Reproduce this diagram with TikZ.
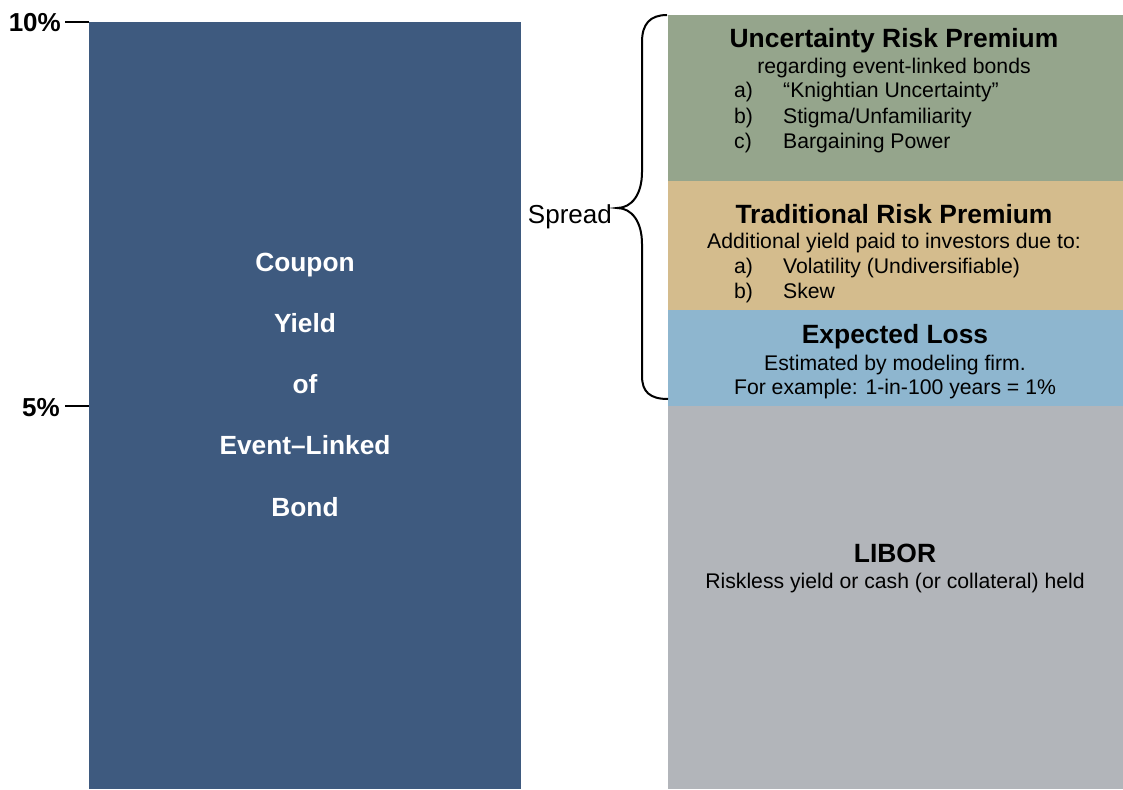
\documentclass[tikz,border=0pt]{standalone}
\usepackage{fontspec}
\setmainfont{Liberation Sans}
\definecolor{barblue}{HTML}{3E5A7F}
\definecolor{ugreen}{HTML}{95A58C}
\definecolor{ttan}{HTML}{D4BC8D}
\definecolor{elblue}{HTML}{8EB6CF}
\definecolor{lgray}{HTML}{B2B5BA}
\tikzset{
  block/.style={inner sep=0pt, outer sep=0pt, anchor=north west, draw=none},
  bigtitle/.style={font=\fontsize{26.4}{30}\selectfont\bfseries, anchor=base, inner sep=0pt},
  bodytxt/.style={font=\fontsize{21.2}{25}\selectfont, anchor=base, inner sep=0pt},
  itemlbl/.style={font=\fontsize{21.2}{25}\selectfont, anchor=base west, inner sep=0pt},
  leftlbl/.style={font=\fontsize{26.3}{30}\selectfont\bfseries, text=white, anchor=base, inner sep=0pt},
  ticklbl/.style={font=\fontsize{26}{30}\selectfont\bfseries, anchor=base east, inner sep=0pt},
  tickline/.style={line width=1.8pt},
  bracestyle/.style={line width=2pt}
}
\begin{document}
\begin{tikzpicture}[x=1pt,y=-1pt]
\useasboundingbox (0,0) rectangle (1123,789);
% left bar
\node[block, fill=barblue, minimum width=432pt, minimum height=767pt] (bar) at (89,22) {};
\node[leftlbl] (l1) at (305,271) {Coupon};
\node[leftlbl] (l2) at (305,332) {Yield};
\node[leftlbl] (l3) at (305,393) {of};
\node[leftlbl] (l4) at (305,454) {Event–Linked};
\node[leftlbl] (l5) at (305,516) {Bond};
% ticks
\coordinate (t10) at (89,22);
\coordinate (t10s) at (65,22);
\coordinate (t5) at (89,406);
\coordinate (t5s) at (65,406);
\draw[tickline] (t10s) -- (t10);
\draw[tickline] (t5s) -- (t5);
\node[ticklbl] (p10) at (61,32) {10\%};
\node[ticklbl] (p5) at (60,416) {5\%};
% right stack
\node[block, fill=ugreen, minimum width=455pt, minimum height=167pt] (ur) at (668,15) {};
\node[block, fill=ttan, minimum width=455pt, minimum height=129pt] (tr) at (668,181) {};
\node[block, fill=elblue, minimum width=455pt, minimum height=96pt] (el) at (668,310) {};
\node[block, fill=lgray, minimum width=455pt, minimum height=383pt] (lb) at (668,406) {};
% uncertainty
\node[bigtitle] (urt) at (894,48) {Uncertainty Risk Premium};
\node[bodytxt] (urs) at (894,74) {regarding event-linked bonds};
\node[itemlbl] (ua) at (734,98) {a)};
\node[itemlbl] (uat) at (783,98) {“Knightian Uncertainty”};
\node[itemlbl] (ub) at (734,123) {b)};
\node[itemlbl] (ubt) at (783,123) {Stigma/Unfamiliarity};
\node[itemlbl] (uc) at (734,148) {c)};
\node[itemlbl] (uct) at (783,148) {Bargaining Power};
% traditional
\node[bigtitle] (trt) at (894,223) {Traditional Risk Premium};
\node[bodytxt] (trs) at (894,248) {Additional yield paid to investors due to:};
\node[itemlbl] (ta) at (734,273) {a)};
\node[itemlbl] (tat) at (783,273) {Volatility (Undiversifiable)};
\node[itemlbl] (tb) at (734,298) {b)};
\node[itemlbl] (tbt) at (783,298) {Skew};
% expected loss
\node[bigtitle] (elt) at (895,343) {Expected Loss};
\node[bodytxt] (els1) at (895,370) {Estimated by modeling firm.};
\node[bodytxt] (els2) at (895,394) {For example: 1-in-100 years = 1\%};
% libor
\node[bigtitle] (lbt) at (895,562) {LIBOR};
\node[bodytxt] (lbs) at (895,588) {Riskless yield or cash (or collateral) held};
% brace
\coordinate (bt) at (667,15);
\coordinate (bb) at (668,399);
\coordinate (tip) at (617,208);
\draw[bracestyle] (bt) .. controls (650,15) and (642,24) .. (642,42)
  -- (642,172) .. controls (642,194) and (632,208) .. (tip)
  .. controls (632,208) and (642,222) .. (642,244)
  -- (642,376) .. controls (642,392) and (650,399) .. (bb);
\node[font=\fontsize{26}{30}\selectfont, anchor=base east, inner sep=0pt] (spread) at (612,223) {Spread};
\end{tikzpicture}
\end{document}
